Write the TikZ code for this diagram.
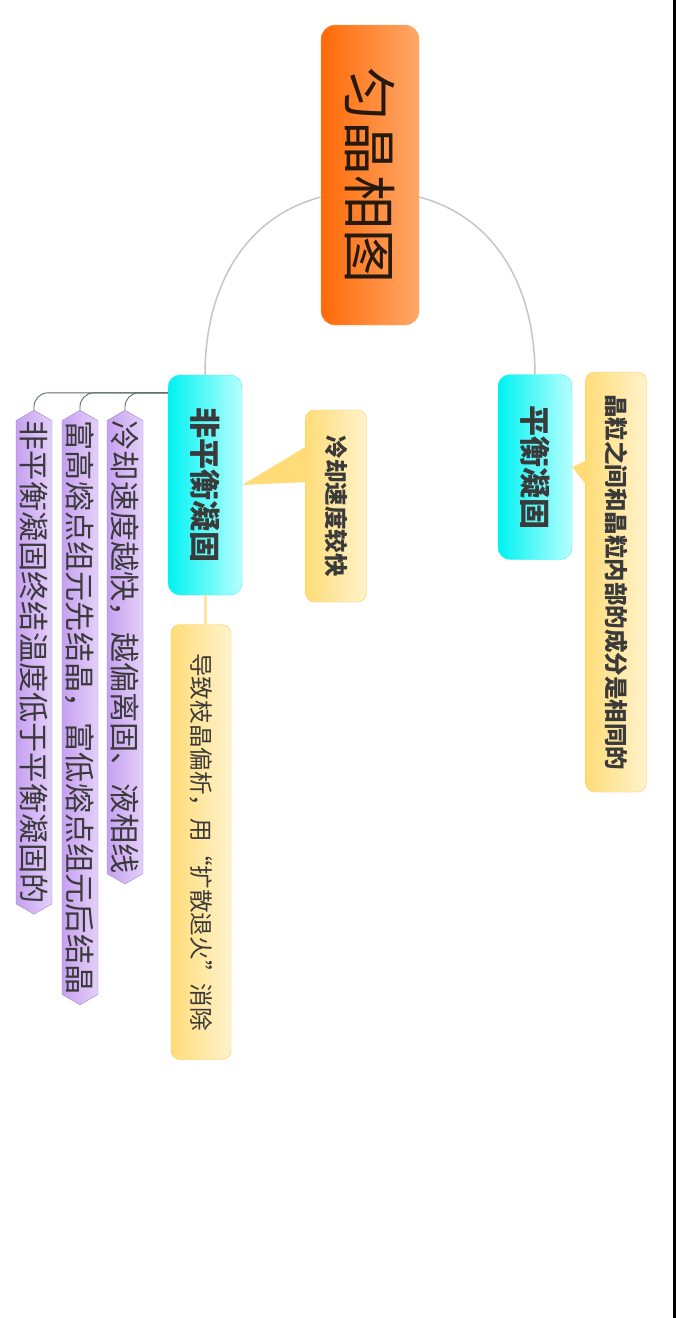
\documentclass[tikz,border=0pt]{standalone}
\usepackage{fontspec}
\newfontfamily\cjk{Noto Sans CJK SC}
\usetikzlibrary{shapes.symbols}
\definecolor{rootdark}{HTML}{FF6A08}
\definecolor{rootlight}{HTML}{FFA868}
\definecolor{cyandark}{HTML}{00F2F2}
\definecolor{cyanlight}{HTML}{B8FFFF}
\definecolor{notedark}{HTML}{FFDC78}
\definecolor{notelight}{HTML}{FFF3CC}
\definecolor{lilacdark}{HTML}{C6A0F0}
\definecolor{lilaclight}{HTML}{E4D0FA}
\definecolor{lilacedge}{HTML}{9A8CC4}
\definecolor{branchgray}{HTML}{C6C6C6}
\definecolor{subline}{HTML}{55705E}
\definecolor{textgray}{HTML}{3A3A3A}

\begin{document}
\begin{tikzpicture}[x=1pt, y=-1pt,
	every node/.style={font=\cjk, rotate=-90, inner sep=0pt, text=textgray},
	rootbox/.style={rectangle, rounded corners=14pt, draw=rootlight, left color=rootdark, middle color=rootdark, right color=rootlight, font=\cjk\fontsize{54}{54}\selectfont, text=black!80!brown},
	topic/.style={rectangle, rounded corners=12pt, draw=cyandark!80!white, left color=cyandark, middle color=cyandark, right color=cyanlight, font=\cjk\bfseries\fontsize{31}{31}\selectfont, minimum height=74pt},
	note/.style={rectangle, rounded corners=9pt, draw=notedark!80!orange, left color=notedark, right color=notelight, minimum height=61pt},
	lilac/.style={signal, signal to=east and west, signal pointer angle=120, draw=lilacedge, left color=lilacdark, right color=lilaclight, font=\cjk\fontsize{30.2}{30.2}\selectfont, minimum height=36pt},
	branch/.style={draw=branchgray, line width=1.5pt},
	sub/.style={draw=subline, line width=0.9pt, rounded corners=14pt}]
	%page and right margin bar
	\useasboundingbox[fill=white] (0,0) rectangle (676,1318);
	\fill[black] (673,0) rectangle (676,1318);
	%main topics
	\node[rootbox, minimum width=300pt, minimum height=98pt] (root) at (370,175) {匀晶相图};
	\node[topic, minimum width=185pt] (bal) at (535,467) {平衡凝固};
	\node[topic, minimum width=220pt] (nonbal) at (205,485) {非平衡凝固};
	%callout pointers
	\fill[notedark] (307,446) -- (nonbal.north) -- (307,482) -- cycle;
	\fill[notedark] (587,460) -- (bal.north) -- (587,486) -- cycle;
	%callouts
	\node[note, minimum width=192pt, font=\cjk\bfseries\fontsize{23.5}{23.5}\selectfont] (fast) at (336,506) {冷却速度较快};
	\node[note, minimum width=420pt, font=\cjk\bfseries\fontsize{23.5}{23.5}\selectfont] (same) at (616,582) {晶粒之间和晶粒内部的成分是相同的};
	%subtopics
	\node[note, minimum width=435pt, minimum height=60pt, font=\cjk\fontsize{23.6}{23.6}\selectfont] (segr) at (201,842) {导致枝晶偏析，用“扩散退火”消除};
	\node[lilac, anchor=west] (speed) at (125,410) {冷却速度越快，越偏离固、液相线};
	\node[lilac, anchor=west] (order) at (80,410) {富高熔点组元先结晶，富低熔点组元后结晶};
	\node[lilac, anchor=west] (temp) at (34,410) {非平衡凝固终结温度低于平衡凝固的};
	%branches
	\draw[branch] ([yshift=-22pt]root.south) to[out=195, in=90] (nonbal.west);
	\draw[branch] ([yshift=-22pt]root.north) to[out=-15, in=90] (bal.west);
	\draw[draw=notedark!70!white, line width=3pt] (nonbal.east) -- (nonbal.east |- segr.west);
	\coordinate (hub) at ([yshift=-18pt]nonbal.south west);
	\draw[sub] (hub) -| (speed.west);
	\draw[sub] (hub) -| (order.west);
	\draw[sub] (hub) -| (temp.west);
\end{tikzpicture}
\end{document}
